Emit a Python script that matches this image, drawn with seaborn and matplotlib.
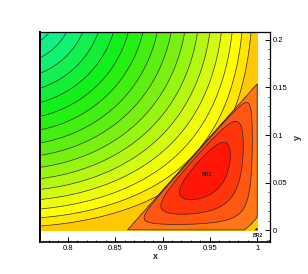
import numpy as np
import matplotlib
matplotlib.use("Agg")
import matplotlib.pyplot as plt
import seaborn as sns

sns.set_theme(style="white")
plt.rcParams["font.family"] = ["Liberation Sans", "DejaVu Sans"]

# field description
x_range = [0.7708, 1.0]
y_range = [0.0, 0.2084]
left_center = [0.74, 0.24]          # arcs around the top-left corner
left_r0 = 0.052
left_step = 0.0155
bottom_gain, bottom_scale = 3.3, 0.055
right_gain, right_scale = 2.2, 0.04
tri_a = [0.863, 0.0]                # triangular region around BR1
tri_b = [1.0, 0.0]
tri_c = [1.0, 0.154]
br1_pos = [0.9466, 0.058]
br2_pos = [1.001, -0.0055]

left_levels = [-3, 0, 1, 2, 3, 4, 5, 6, 7, 8, 9, 10, 11, 12, 13, 14, 15, 19.5]
right_levels = [20.8, 22.0, 23.2, 25]
left_colors = ["#11f0a6", "#11f088", "#11f06e", "#11f050", "#11f036", "#11f018",
               "#24f011", "#41f011", "#5bf011", "#79f011", "#96f511", "#b6f711",
               "#d3fa11", "#eefd08", "#ffff00", "#ffe600", "#ffc800"]
right_colors = ["#ff7616", "#ff5610", "#ff360c", "#ff1606"]
levels = left_levels + right_levels
band_colors = left_colors + right_colors

xs = np.linspace(x_range[0], x_range[1], 900)
ys = np.linspace(y_range[0], y_range[1], 900)
X, Y = np.meshgrid(xs, ys)

r = np.hypot(X - left_center[0], Y - left_center[1])
z_left = ((r - left_r0) / left_step
          + bottom_gain * np.exp(-Y / bottom_scale)
          + right_gain * np.exp(-(1 - X) / right_scale) - 0.05)
z_left = np.minimum(z_left, 19)

h = tri_c[1] - tri_b[1]
w = tri_b[0] - tri_a[0]
b1 = (Y - tri_a[1]) / h
b2 = (tri_b[0] - X) / w
b3 = 1 - b1 - b2
inside = (b1 > 0) & (b2 > 0) & (b3 > 0)
g = (np.clip(b1, 0, None) * np.clip(b2, 0, None)
     * np.clip(b3, 0, None) ** 0.55)
g = g / g.max()
corner = np.exp(-(np.abs(tri_b[0] - X) + Y) / 0.005)
z_right = 20 + 4 * g - 8 * corner

Z = np.where(inside, z_right, z_left)

fig = plt.figure(figsize=(3.08, 2.74), dpi=100)
ax = fig.add_axes([0.1299, 0.1168, 0.7468, 0.7664])
ax.contourf(X, Y, Z, levels=levels, colors=band_colors)
ax.contour(X, Y, Z, levels=levels[1:-1], colors="#303030", linewidths=0.5)

ax.text(br1_pos[0], br1_pos[1], "BR1", fontsize=3.8, fontweight="bold",
        ha="center", va="center")
ax.text(br2_pos[0], br2_pos[1], "BR2", fontsize=3.8, fontweight="bold",
        ha="center", va="center")

ax.set_xlim(0.7708, 1.0134)
ax.set_ylim(-0.0126, 0.2084)
ax.set_xticks([0.8, 0.85, 0.9, 0.95, 1.0])
ax.set_xticklabels(["0.8", "0.85", "0.9", "0.95", "1"])
ax.set_yticks([0, 0.05, 0.1, 0.15, 0.2])
ax.set_yticklabels(["0", "0.05", "0.1", "0.15", "0.2"])
ax.set_xticks(np.arange(0.78, 1.011, 0.01), minor=True)
ax.set_yticks(np.arange(-0.01, 0.2081, 0.01), minor=True)
ax.yaxis.tick_right()
ax.yaxis.set_label_position("right")
ax.tick_params(which="both", direction="in", colors="black", labelsize=5.5,
               bottom=True, top=False, left=False, right=True, pad=2)
ax.tick_params(which="major", length=3.6, width=0.7)
ax.tick_params(which="minor", length=1.8, width=0.5)
ax.set_xlabel("x", fontsize=6.5, fontweight="bold", labelpad=0)
ax.set_ylabel("y", fontsize=6.5, fontweight="bold", labelpad=4)
for s in ax.spines.values():
    s.set_color("black")
    s.set_linewidth(0.9)
ax.spines["left"].set_linewidth(1.4)
ax.spines["bottom"].set_linewidth(1.2)

fig.savefig("out.png", dpi=100, facecolor="white")
